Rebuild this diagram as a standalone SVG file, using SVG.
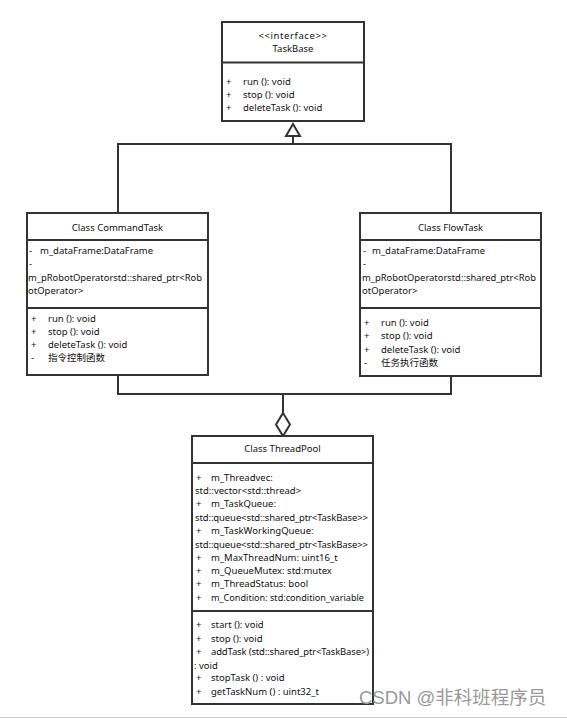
<svg xmlns="http://www.w3.org/2000/svg" width="567" height="719" viewBox="0 0 567 719">
<style>
.box{fill:#fff;stroke:#333;stroke-width:2}
.div{stroke:#333;stroke-width:2}
.con{fill:none;stroke:#333;stroke-width:2}
text{font-family:"Noto Sans","Noto Sans CJK SC",sans-serif;font-size:9.5px;fill:#111}
.c{text-anchor:middle}
.wm{font-family:"Liberation Sans","Noto Sans CJK SC",sans-serif;font-size:18.5px;fill:#999}
</style>
<rect width="567" height="719" fill="#fff"/>
<g id="connectors">
<polyline class="con" points="118,213 118,144 451,144 451,213"/>
<line class="con" x1="293" y1="144" x2="293" y2="136"/>
<polygon class="con" points="293,124 286,136 300,136" fill="#fff"/>
<polyline class="con" points="118,376 118,394 451,394 451,376"/>
<line class="con" x1="283" y1="394" x2="283" y2="413"/>
<polygon class="con" points="283,413 290,424.5 283,436 276,424.5" fill="#fff"/>
</g>
<g id="TaskBase">
<rect class="box" x="222" y="22" width="142" height="99"/>
<line class="div" x1="222" y1="62.5" x2="364" y2="62.5"/>
<text class="c" x="293" y="39" letter-spacing="0.6">&lt;&lt;interface&gt;&gt;</text>
<text class="c" x="293" y="52">TaskBase</text>
<text x="226" y="85">+</text><text x="243" y="85">run (): void</text>
<text x="226" y="98">+</text><text x="243" y="98">stop (): void</text>
<text x="226" y="111">+</text><text x="243" y="111">deleteTask (): void</text>
</g>
<g id="CommandTask">
<rect class="box" x="27" y="213" width="181" height="162"/>
<line class="div" x1="27" y1="240" x2="208" y2="240"/>
<line class="div" x1="27" y1="308" x2="208" y2="308"/>
<text class="c" x="117.5" y="231">Class CommandTask</text>
<text x="29" y="254">-</text><text x="40" y="254">m_dataFrame:DataFrame</text>
<text x="29" y="267">-</text>
<text x="28" y="281" textLength="174" lengthAdjust="spacingAndGlyphs">m_pRobotOperatorstd::shared_ptr&lt;Rob</text>
<text x="28" y="294">otOperator&gt;</text>
<text x="31" y="322">+</text><text x="48" y="322">run (): void</text>
<text x="31" y="335">+</text><text x="48" y="335">stop (): void</text>
<text x="31" y="348">+</text><text x="48" y="348">deleteTask (): void</text>
<text x="31" y="361">-</text><text x="48" y="361">指令控制函数</text>
</g>
<g id="FlowTask">
<rect class="box" x="360" y="213" width="181" height="163"/>
<line class="div" x1="360" y1="240" x2="541" y2="240"/>
<line class="div" x1="360" y1="308" x2="541" y2="308"/>
<text class="c" x="450.5" y="231">Class FlowTask</text>
<text x="363" y="254">-</text><text x="372" y="254">m_dataFrame:DataFrame</text>
<text x="363" y="267">-</text>
<text x="362" y="281" textLength="174" lengthAdjust="spacingAndGlyphs">m_pRobotOperatorstd::shared_ptr&lt;Rob</text>
<text x="362" y="294">otOperator&gt;</text>
<text x="364" y="326">+</text><text x="381" y="326">run (): void</text>
<text x="364" y="339">+</text><text x="381" y="339">stop (): void</text>
<text x="364" y="353">+</text><text x="381" y="353">deleteTask (): void</text>
<text x="364" y="366">-</text><text x="381" y="366">任务执行函数</text>
</g>
<g id="ThreadPool">
<rect class="box" x="192" y="436" width="181" height="268"/>
<line class="div" x1="192" y1="463" x2="373" y2="463"/>
<line class="div" x1="192" y1="611" x2="373" y2="611"/>
<text class="c" x="282.5" y="452">Class ThreadPool</text>
<text x="196" y="481">+</text><text x="211" y="481">m_Threadvec:</text>
<text x="195" y="494">std::vector&lt;std::thread&gt;</text>
<text x="196" y="507">+</text><text x="211" y="507">m_TaskQueue:</text>
<text x="195" y="521" textLength="173" lengthAdjust="spacing">std::queue&lt;std::shared_ptr&lt;TaskBase&gt;&gt;</text>
<text x="196" y="534">+</text><text x="211" y="534">m_TaskWorkingQueue:</text>
<text x="195" y="548" textLength="173" lengthAdjust="spacing">std::queue&lt;std::shared_ptr&lt;TaskBase&gt;&gt;</text>
<text x="196" y="561">+</text><text x="211" y="561">m_MaxThreadNum: uint16_t</text>
<text x="196" y="574">+</text><text x="211" y="574">m_QueueMutex: std:mutex</text>
<text x="196" y="587">+</text><text x="211" y="587">m_ThreadStatus: bool</text>
<text x="196" y="601">+</text><text x="211" y="601" textLength="153" lengthAdjust="spacingAndGlyphs">m_Condition: std:condition_variable</text>
<text x="196" y="628">+</text><text x="211" y="628">start (): void</text>
<text x="196" y="642">+</text><text x="211" y="642">stop (): void</text>
<text x="196" y="655">+</text><text x="211" y="655" textLength="158" lengthAdjust="spacing">addTask (std::shared_ptr&lt;TaskBase&gt;)</text>
<text x="194" y="669">: void</text>
<text x="196" y="681">+</text><text x="211" y="681">stopTask () : void</text>
<text x="196" y="695">+</text><text x="211" y="695">getTaskNum () : uint32_t</text>
</g>
<text class="wm" x="359" y="704">CSDN @非科班程序员</text>
<line x1="0" y1="717.5" x2="567" y2="717.5" stroke="#ccc" stroke-width="1"/>
</svg>
